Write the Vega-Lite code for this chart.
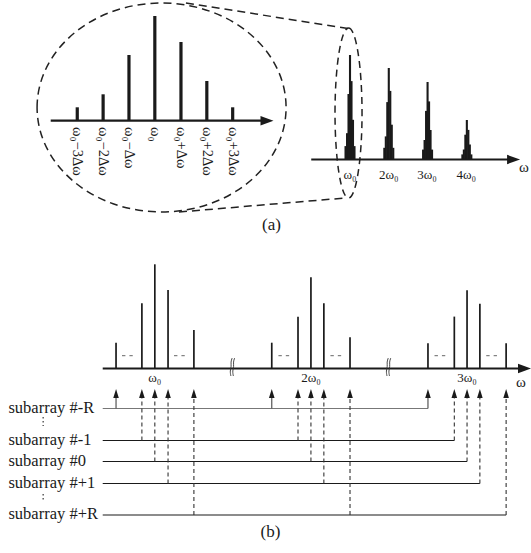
{
  "$schema": "https://vega.github.io/schema/vega-lite/v6.json",
  "width": 531,
  "height": 553,
  "padding": 0,
  "autosize": {"type": "fit", "contains": "padding"},
  "background": "white",
  "config": {"view": {"stroke": null}},
  "datasets": {
    "ellA": [{"x": 162.5, "y": 107.5}],
    "ellB": [{"x": 350.5, "y": 113}],
    "conn": [
      {"x": 187, "y": 3, "x2": 350, "y2": 28.5},
      {"x": 180, "y": 212, "x2": 347, "y2": 198}
    ],
    "barsA": [
      {"x": 77.7, "y": 107.3, "y2": 120.7},
      {"x": 103.7, "y": 94.3, "y2": 120.7},
      {"x": 129.7, "y": 55, "y2": 120.7},
      {"x": 155.7, "y": 16, "y2": 120.7},
      {"x": 182, "y": 42, "y2": 120.7},
      {"x": 208, "y": 81, "y2": 120.7},
      {"x": 234, "y": 107.3, "y2": 120.7}
    ],
    "clusters": [
      {"x": 347.5, "y": 146.1, "y2": 159.5}, {"x": 349, "y": 133.2, "y2": 159.5}, {"x": 350.5, "y": 94, "y2": 159.5}, {"x": 352, "y": 55, "y2": 159.5}, {"x": 353.5, "y": 81.1, "y2": 159.5}, {"x": 355, "y": 119.8, "y2": 159.5}, {"x": 356.5, "y": 146.1, "y2": 159.5},
      {"x": 386.5, "y": 147.8, "y2": 159.5}, {"x": 388, "y": 136.4, "y2": 159.5}, {"x": 389.5, "y": 102.1, "y2": 159.5}, {"x": 391, "y": 68, "y2": 159.5}, {"x": 392.5, "y": 90.9, "y2": 159.5}, {"x": 394, "y": 124.7, "y2": 159.5}, {"x": 395.5, "y": 147.8, "y2": 159.5},
      {"x": 425.5, "y": 149.6, "y2": 159.5}, {"x": 427, "y": 140, "y2": 159.5}, {"x": 428.5, "y": 110.9, "y2": 159.5}, {"x": 430, "y": 82, "y2": 159.5}, {"x": 431.5, "y": 101.4, "y2": 159.5}, {"x": 433, "y": 130, "y2": 159.5}, {"x": 434.5, "y": 149.6, "y2": 159.5},
      {"x": 465, "y": 154.4, "y2": 159.5}, {"x": 466.5, "y": 149.5, "y2": 159.5}, {"x": 468, "y": 134.7, "y2": 159.5}, {"x": 469.5, "y": 120, "y2": 159.5}, {"x": 471, "y": 129.9, "y2": 159.5}, {"x": 472.5, "y": 144.5, "y2": 159.5}, {"x": 474, "y": 154.4, "y2": 159.5}
    ],
    "barsB": [
      {"x": 116.7, "y": 342.7, "y2": 368.5}, {"x": 142.7, "y": 303.3, "y2": 368.5}, {"x": 155.7, "y": 264.3, "y2": 368.5}, {"x": 169, "y": 290, "y2": 368.5}, {"x": 195, "y": 330, "y2": 368.5},
      {"x": 273.3, "y": 342.7, "y2": 368.5}, {"x": 299.7, "y": 316.7, "y2": 368.5}, {"x": 312.7, "y": 277.3, "y2": 368.5}, {"x": 325.7, "y": 303.3, "y2": 368.5}, {"x": 352, "y": 337.3, "y2": 368.5},
      {"x": 430.4, "y": 343.3, "y2": 368.5}, {"x": 456.9, "y": 316.6, "y2": 368.5}, {"x": 469.7, "y": 290.2, "y2": 368.5}, {"x": 482.6, "y": 303.7, "y2": 368.5}, {"x": 509, "y": 343.3, "y2": 368.5}
    ],
    "axes": [
      {"x": 51, "x2": 264, "y": 120.7},
      {"x": 313, "x2": 512, "y": 159.5},
      {"x": 103.3, "x2": 522, "y": 368.5}
    ],
    "arrowsR": [
      {"x": 268.5, "y": 120.7},
      {"x": 516.5, "y": 159.5},
      {"x": 527.5, "y": 368.5}
    ],
    "dashes": [
      {"x": 122.7, "x2": 133.5, "y": 355.7}, {"x": 175, "x2": 185.8, "y": 355.7},
      {"x": 280, "x2": 290.8, "y": 355.7}, {"x": 332.3, "x2": 343.1, "y": 355.7},
      {"x": 437, "x2": 447.8, "y": 355.7}, {"x": 489, "x2": 499.8, "y": 355.7}
    ],
    "breaks": [
      {"k": "a1", "o": 1, "x": 233.5, "y": 358}, {"k": "a1", "o": 2, "x": 232, "y": 362}, {"k": "a1", "o": 3, "x": 232.8, "y": 366.5}, {"k": "a1", "o": 4, "x": 231.2, "y": 371}, {"k": "a1", "o": 5, "x": 232.2, "y": 376},
      {"k": "a2", "o": 1, "x": 236, "y": 358}, {"k": "a2", "o": 2, "x": 234.5, "y": 362}, {"k": "a2", "o": 3, "x": 235.3, "y": 366.5}, {"k": "a2", "o": 4, "x": 233.7, "y": 371}, {"k": "a2", "o": 5, "x": 234.7, "y": 376},
      {"k": "b1", "o": 1, "x": 390.5, "y": 358}, {"k": "b1", "o": 2, "x": 389, "y": 362}, {"k": "b1", "o": 3, "x": 389.8, "y": 366.5}, {"k": "b1", "o": 4, "x": 388.2, "y": 371}, {"k": "b1", "o": 5, "x": 389.2, "y": 376},
      {"k": "b2", "o": 1, "x": 393, "y": 358}, {"k": "b2", "o": 2, "x": 391.5, "y": 362}, {"k": "b2", "o": 3, "x": 392.3, "y": 366.5}, {"k": "b2", "o": 4, "x": 390.7, "y": 371}, {"k": "b2", "o": 5, "x": 391.7, "y": 376}
    ],
    "subGray": [{"x": 103.3, "x2": 430.4, "y": 408.5}],
    "subBlack": [
      {"x": 103.3, "x2": 456.9, "y": 440.5},
      {"x": 103.3, "x2": 469.7, "y": 461.5},
      {"x": 103.3, "x2": 482.6, "y": 483.5},
      {"x": 103.3, "x2": 509, "y": 515}
    ],
    "vertSolid": [
      {"x": 116.7, "y": 408.5, "y2": 397},
      {"x": 273.3, "y": 408.5, "y2": 397},
      {"x": 430.4, "y": 408.5, "y2": 397}
    ],
    "vertDash": [
      {"x": 142.7, "y": 440.5, "y2": 397}, {"x": 299.7, "y": 440.5, "y2": 397}, {"x": 456.9, "y": 440.5, "y2": 397},
      {"x": 155.7, "y": 461.5, "y2": 397}, {"x": 312.7, "y": 461.5, "y2": 397}, {"x": 469.7, "y": 461.5, "y2": 397},
      {"x": 169, "y": 483.5, "y2": 397}, {"x": 325.7, "y": 483.5, "y2": 397}, {"x": 482.6, "y": 483.5, "y2": 397},
      {"x": 195, "y": 515, "y2": 397}, {"x": 352, "y": 515, "y2": 397}, {"x": 509, "y": 515, "y2": 397}
    ],
    "arrowsUp": [
      {"x": 116.7, "y": 393.5}, {"x": 142.7, "y": 393.5}, {"x": 155.7, "y": 393.5}, {"x": 169, "y": 393.5}, {"x": 195, "y": 393.5},
      {"x": 273.3, "y": 393.5}, {"x": 299.7, "y": 393.5}, {"x": 312.7, "y": 393.5}, {"x": 325.7, "y": 393.5}, {"x": 352, "y": 393.5},
      {"x": 430.4, "y": 393.5}, {"x": 456.9, "y": 393.5}, {"x": 469.7, "y": 393.5}, {"x": 482.6, "y": 393.5}, {"x": 509, "y": 393.5}
    ],
    "vdots": [
      {"x": 43.4, "y": 417, "y2": 426},
      {"x": 43.4, "y": 494, "y2": 501}
    ],
    "lblA": [
      {"x": 77.7, "y": 127, "t": "ω₀−3Δω"},
      {"x": 103.7, "y": 127, "t": "ω₀−2Δω"},
      {"x": 129.7, "y": 127, "t": "ω₀−Δω"},
      {"x": 155.7, "y": 127, "t": "ω₀"},
      {"x": 182, "y": 127, "t": "ω₀+Δω"},
      {"x": 208, "y": 127, "t": "ω₀+2Δω"},
      {"x": 234, "y": 127, "t": "ω₀+3Δω"}
    ],
    "lblSmall": [
      {"x": 352, "y": 175, "t": "ω₀"},
      {"x": 391, "y": 175, "t": "2ω₀"},
      {"x": 429.5, "y": 175, "t": "3ω₀"},
      {"x": 469, "y": 175, "t": "4ω₀"},
      {"x": 155.7, "y": 378, "t": "ω₀"},
      {"x": 312.7, "y": 378, "t": "2ω₀"},
      {"x": 469.7, "y": 378, "t": "3ω₀"}
    ],
    "lblOmega": [
      {"x": 527, "y": 167, "t": "ω"},
      {"x": 524, "y": 382, "t": "ω"}
    ],
    "lblCap": [
      {"x": 273, "y": 225, "t": "(a)"},
      {"x": 272, "y": 532, "t": "(b)"}
    ],
    "lblSub": [
      {"x": 8.5, "y": 408.5, "t": "subarray #-R"},
      {"x": 8.5, "y": 440.5, "t": "subarray #-1"},
      {"x": 8.5, "y": 461.5, "t": "subarray #0"},
      {"x": 8.5, "y": 483.5, "t": "subarray #+1"},
      {"x": 8.5, "y": 515, "t": "subarray #+R"}
    ]
  },
  "encoding": {
    "x": {"field": "x", "type": "quantitative", "scale": {"domain": [0, 531], "nice": false, "zero": false}, "axis": null},
    "y": {"field": "y", "type": "quantitative", "scale": {"domain": [0, 553], "nice": false, "zero": false, "reverse": true}, "axis": null}
  },
  "layer": [
    {"data": {"name": "ellA"}, "mark": {"type": "point", "shape": "M-1,0A1,0.839,0,1,1,1,0A1,0.839,0,1,1,-1,0Z", "size": 62001, "filled": false, "stroke": "#222", "strokeWidth": 1.5, "strokeDash": [8, 5], "opacity": 1}},
    {"data": {"name": "ellB"}, "mark": {"type": "point", "shape": "M0,-1A0.159,1,0,1,1,0,1A0.159,1,0,1,1,0,-1Z", "size": 28900, "filled": false, "stroke": "#222", "strokeWidth": 1.5, "strokeDash": [7, 5], "opacity": 1}},
    {"data": {"name": "conn"}, "mark": {"type": "rule", "stroke": "#222", "strokeWidth": 1.5, "strokeDash": [8, 5]}, "encoding": {"x2": {"field": "x2"}, "y2": {"field": "y2"}}},
    {"data": {"name": "barsA"}, "mark": {"type": "rule", "stroke": "#1a1a1a", "strokeWidth": 3.2}, "encoding": {"y2": {"field": "y2"}}},
    {"data": {"name": "clusters"}, "mark": {"type": "rule", "stroke": "#1a1a1a", "strokeWidth": 2.1}, "encoding": {"y2": {"field": "y2"}}},
    {"data": {"name": "barsB"}, "mark": {"type": "rule", "stroke": "#1a1a1a", "strokeWidth": 1.7}, "encoding": {"y2": {"field": "y2"}}},
    {"data": {"name": "axes"}, "mark": {"type": "rule", "stroke": "#1a1a1a", "strokeWidth": 2.2}, "encoding": {"x2": {"field": "x2"}}},
    {"data": {"name": "arrowsR"}, "mark": {"type": "point", "shape": "M1,0L-1,-0.72L-1,0.72Z", "size": 169, "filled": true, "fill": "#1a1a1a", "strokeWidth": 0, "opacity": 1}},
    {"data": {"name": "dashes"}, "mark": {"type": "rule", "stroke": "#666", "strokeWidth": 1, "strokeDash": [3.4, 4]}, "encoding": {"x2": {"field": "x2"}}},
    {"data": {"name": "breaks"}, "mark": {"type": "line", "stroke": "#333", "strokeWidth": 0.9, "interpolate": "basis"}, "encoding": {"detail": {"field": "k"}, "order": {"field": "o", "type": "quantitative"}}},
    {"data": {"name": "subGray"}, "mark": {"type": "rule", "stroke": "#777", "strokeWidth": 1.2}, "encoding": {"x2": {"field": "x2"}}},
    {"data": {"name": "subBlack"}, "mark": {"type": "rule", "stroke": "#1a1a1a", "strokeWidth": 1.1}, "encoding": {"x2": {"field": "x2"}}},
    {"data": {"name": "vertSolid"}, "mark": {"type": "rule", "stroke": "#555", "strokeWidth": 1.2}, "encoding": {"y2": {"field": "y2"}}},
    {"data": {"name": "vertDash"}, "mark": {"type": "rule", "stroke": "#333", "strokeWidth": 1.1, "strokeDash": [4, 3]}, "encoding": {"y2": {"field": "y2"}}},
    {"data": {"name": "arrowsUp"}, "mark": {"type": "point", "shape": "M0,-1L0.62,1L-0.62,1Z", "size": 81, "filled": true, "fill": "#1a1a1a", "strokeWidth": 0, "opacity": 1}},
    {"data": {"name": "vdots"}, "mark": {"type": "rule", "stroke": "#444", "strokeWidth": 1.3, "strokeDash": [1.5, 2.5]}, "encoding": {"y2": {"field": "y2"}}},
    {"data": {"name": "lblA"}, "mark": {"type": "text", "font": "Liberation Serif", "fontSize": 14.5, "angle": 90, "align": "left", "baseline": "middle", "color": "#1a1a1a"}, "encoding": {"text": {"field": "t"}}},
    {"data": {"name": "lblSmall"}, "mark": {"type": "text", "font": "Liberation Serif", "fontSize": 13, "align": "center", "baseline": "middle", "color": "#1a1a1a"}, "encoding": {"text": {"field": "t"}}},
    {"data": {"name": "lblOmega"}, "mark": {"type": "text", "font": "Liberation Serif", "fontSize": 15, "align": "center", "baseline": "middle", "color": "#1a1a1a"}, "encoding": {"text": {"field": "t"}}},
    {"data": {"name": "lblCap"}, "mark": {"type": "text", "font": "Liberation Serif", "fontSize": 17, "align": "center", "baseline": "middle", "color": "#1a1a1a"}, "encoding": {"text": {"field": "t"}}},
    {"data": {"name": "lblSub"}, "mark": {"type": "text", "font": "Liberation Serif", "fontSize": 16.5, "align": "left", "baseline": "alphabetic", "dy": 4, "color": "#1a1a1a"}, "encoding": {"text": {"field": "t"}}}
  ]
}
